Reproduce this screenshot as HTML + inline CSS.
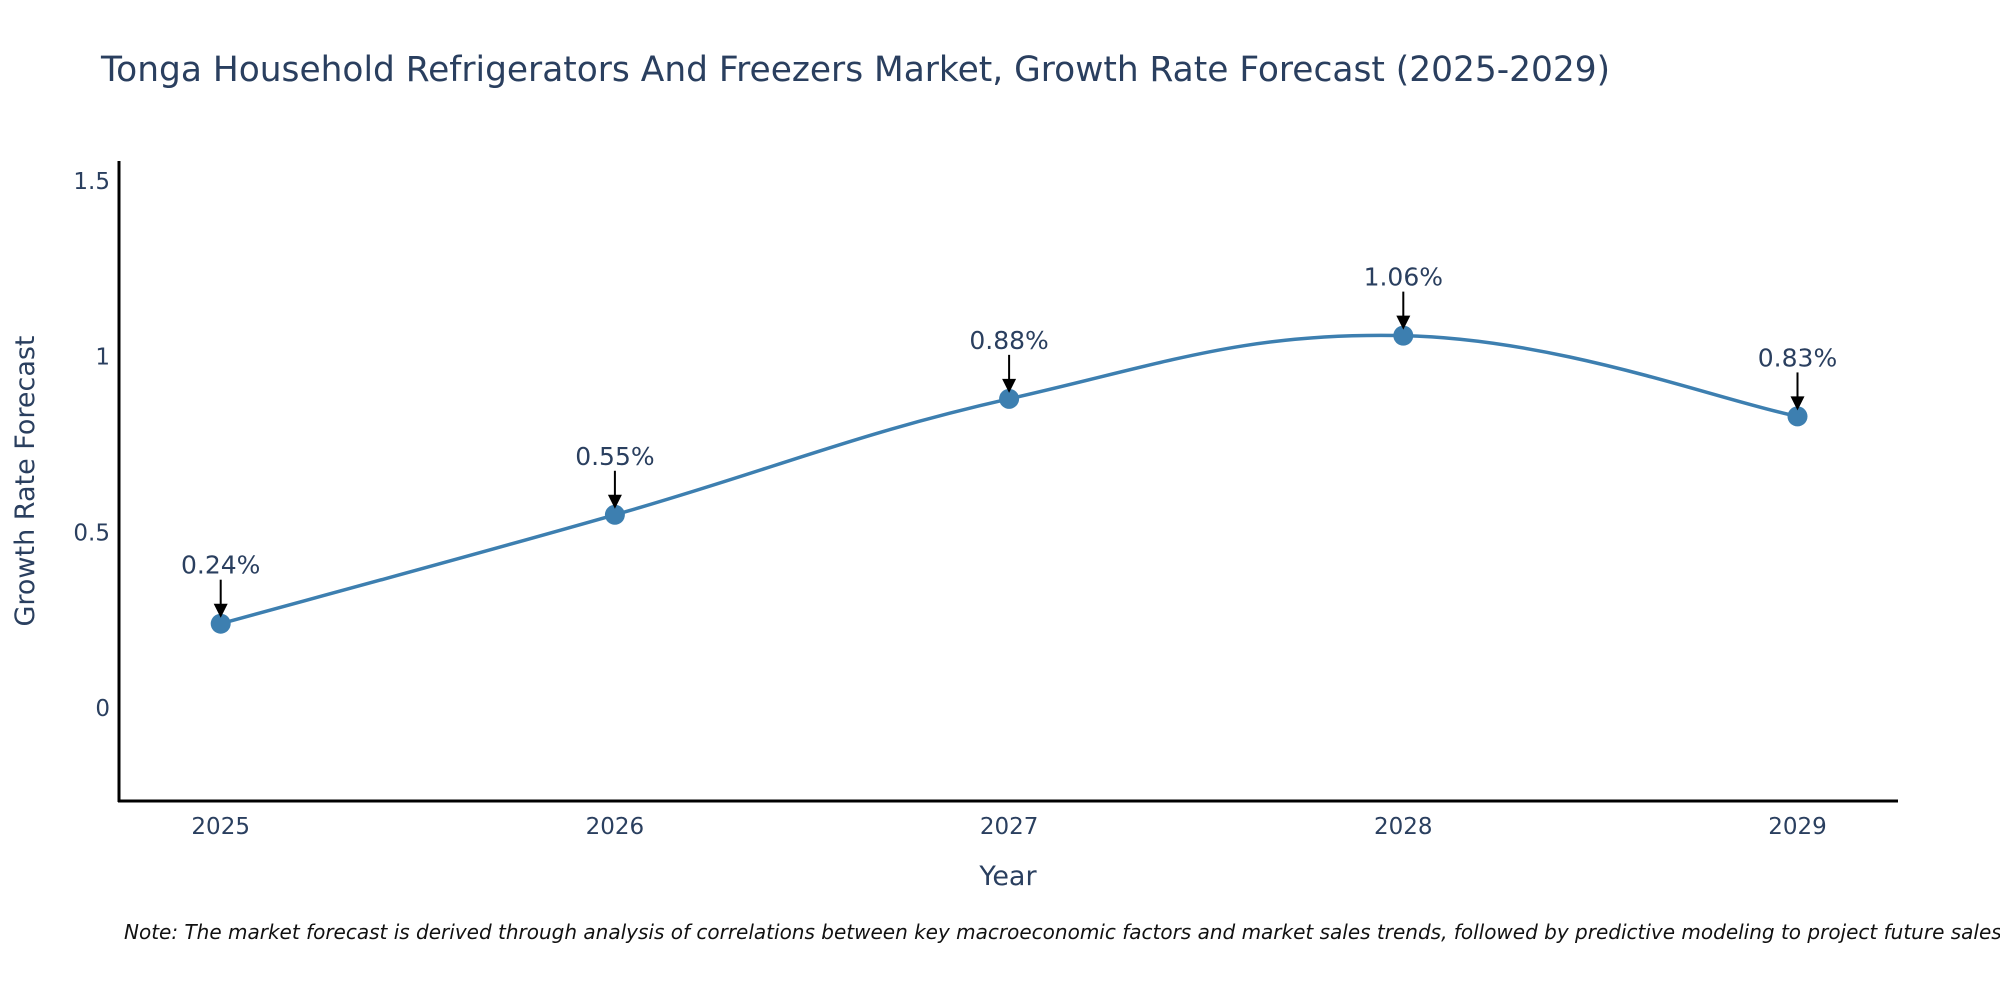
<!DOCTYPE html>
<html><head><meta charset="utf-8"><style>
body{margin:0;background:#fff}
svg{display:block;font-family:"DejaVu Sans","Liberation Sans",sans-serif}
</style></head><body>
<svg id="chart" width="2000" height="1000" viewBox="0 0 2000 1000">
<text x="101" y="81" font-size="34.4" fill="#2a3f5f">Tonga Household Refrigerators And Freezers Market, Growth Rate Forecast (2025-2029)</text>
<g id="yticks"></g><g id="xticks"></g>
<line x1="119" y1="161" x2="119" y2="802" stroke="#000" stroke-width="3"/>
<line x1="118" y1="801" x2="1898" y2="801" stroke="#000" stroke-width="3"/>
<path id="line" fill="none" stroke="#3d7fb0" stroke-width="3.5"/>
<g id="marks"></g>
<text transform="translate(34,481) rotate(-90)" text-anchor="middle" font-size="27" fill="#2a3f5f">Growth Rate Forecast</text>
<text x="1008" y="885" text-anchor="middle" font-size="27" fill="#2a3f5f">Year</text>
<text x="124" y="939" font-size="20" font-style="italic" fill="#111">Note: The market forecast is derived through analysis of correlations between key macroeconomic factors and market sales trends, followed by predictive modeling to project future sales.</text>
</svg>
<script>
const years = [2025, 2026, 2027, 2028, 2029];
const values = [0.24, 0.55, 0.88, 1.06, 0.83];
const labels = ["0.24%", "0.55%", "0.88%", "1.06%", "0.83%"];
const yTicks = [0, 0.5, 1, 1.5];
const yTickLabels = ["0", "0.5", "1", "1.5"];
const NS = "http://www.w3.org/2000/svg";
const xs = v => 220.7 + (v - 2025) * 394.2;
const ys = v => 708 - v * 351.3;
function mk(tag, attrs, parent, txt) {
  const e = document.createElementNS(NS, tag);
  for (const k in attrs) e.setAttribute(k, attrs[k]);
  if (txt !== undefined) e.textContent = txt;
  parent.appendChild(e); return e;
}
const yg = document.getElementById('yticks');
yTicks.forEach((t, i) => {
  const el = mk('text', {x: 110, y: ys(t) + 8, 'text-anchor': 'end', 'font-size': 23, fill: '#2a3f5f'}, yg, yTickLabels[i]);
  
  
});
const xg = document.getElementById('xticks');
years.forEach(y => {
  const el = mk('text', {x: xs(y), y: 834, 'text-anchor': 'middle', 'font-size': 23, fill: '#2a3f5f'}, xg, String(y));
  
  
});
const P = years.map((y, i) => [xs(y), ys(values[i])]);
let d = `M${P[0][0]},${P[0][1]}`;
const s = 0.2;
for (let i = 0; i < P.length - 1; i++) {
  const p0 = P[i - 1] || P[i], p1 = P[i], p2 = P[i + 1], p3 = P[i + 2] || P[i + 1];
  const c1 = [p1[0] + (p2[0] - p0[0]) * s, p1[1] + (p2[1] - p0[1]) * s];
  const c2 = [p2[0] - (p3[0] - p1[0]) * s, p2[1] - (p3[1] - p1[1]) * s];
  d += ` C${c1[0]},${c1[1]} ${c2[0]},${c2[1]} ${p2[0]},${p2[1]}`;
}
document.getElementById('line').setAttribute('d', d);
const mg = document.getElementById('marks');
P.forEach((p, i) => {
  const c = mk('circle', {cx: p[0], cy: p[1], r: 10, fill: '#3d7fb0'}, mg);
  
  
  const a = mk('line', {x1: p[0], y1: p[1] - 44, x2: p[0], y2: p[1] - 18, stroke: '#000', 'stroke-width': 2}, mg);
  
  
  const h = mk('polygon', {points: `${p[0]-7},${p[1]-20} ${p[0]+7},${p[1]-20} ${p[0]},${p[1]-6}`, fill: '#000'}, mg);
  
  
  const t = mk('text', {x: p[0], y: p[1] - 50, 'text-anchor': 'middle', 'font-size': 25, fill: '#2a3f5f'}, mg, labels[i]);
  
  
});
</script>
</body></html>
